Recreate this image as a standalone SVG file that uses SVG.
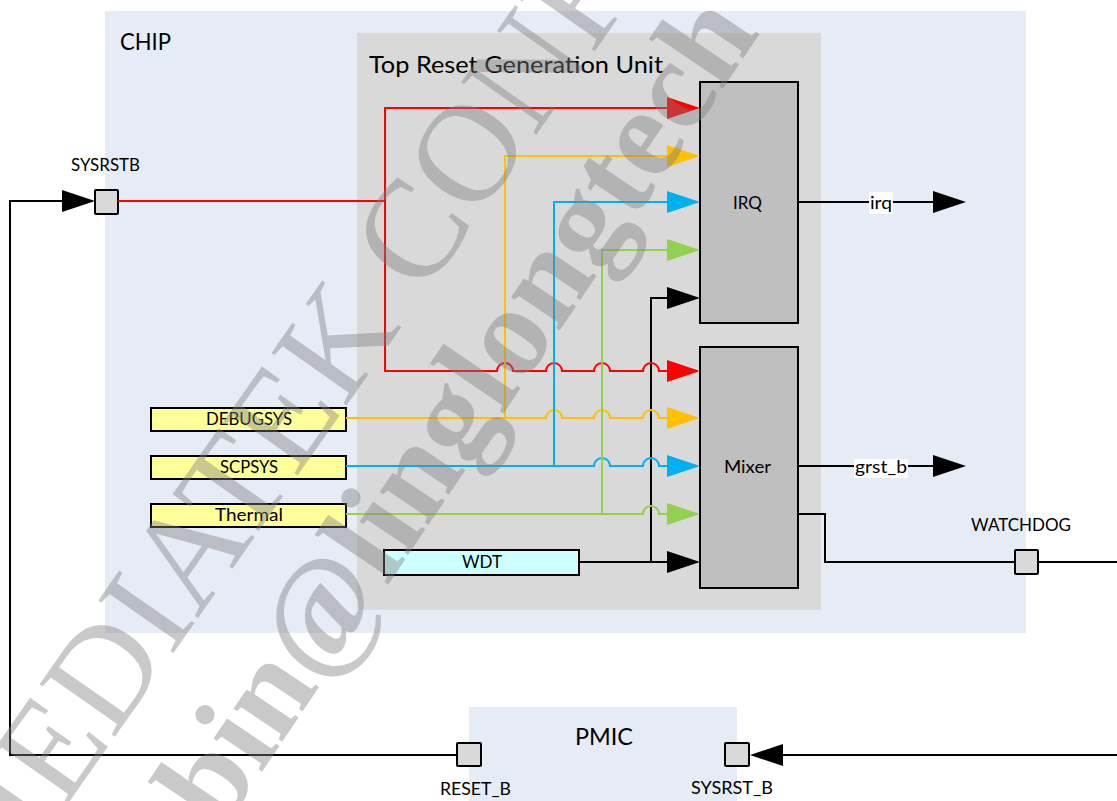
<svg xmlns="http://www.w3.org/2000/svg" width="1117" height="801" viewBox="0 0 1117 801">
<style>
text{font-family:Lato,"Open Sans","Liberation Sans",sans-serif;fill:#000}
.big{font-size:23px}
.lbl{font-size:17.5px}
.pad{fill:#D9D9D9;stroke:#000;stroke-width:2}
.blk{fill:#BFBFBF;stroke:#000;stroke-width:2}
.src{fill:#FFFF99;stroke:#000;stroke-width:2}
.wdt{fill:#CCFFFF;stroke:#000;stroke-width:2}
.w{fill:none;stroke-width:2;stroke-linejoin:miter}
.k{stroke:#000}.r{stroke:#FF0000}.y{stroke:#FFC000}.b{stroke:#00B0F0}.g{stroke:#92D050}
.wm{font-family:"Liberation Serif",serif;fill:#7F7F7F;fill-opacity:0.42}
</style>
<g id="chip"><rect x="105" y="11" width="921" height="622" fill="#E6ECF6"/><text class="big" x="120" y="50" textLength="51" lengthAdjust="spacingAndGlyphs">CHIP</text></g>
<g id="trgu"><rect x="357" y="33" width="464" height="577" fill="#D9D9D9"/><text class="big" x="369" y="73" textLength="294" lengthAdjust="spacingAndGlyphs">Top Reset Generation Unit</text></g>
<g id="pmic"><rect x="469" y="707" width="268" height="94" fill="#E6ECF6"/><text class="big" x="575" y="745" textLength="58" lengthAdjust="spacingAndGlyphs">PMIC</text></g>
<g id="irq"><rect class="blk" x="700" y="82" width="98" height="241"/><text class="lbl" x="733" y="209" textLength="29" lengthAdjust="spacingAndGlyphs">IRQ</text></g>
<g id="mixer"><rect class="blk" x="700" y="347" width="98" height="241"/><text class="lbl" x="724" y="473" textLength="47" lengthAdjust="spacingAndGlyphs">Mixer</text></g>
<g id="debugsys"><rect class="src" x="151" y="408" width="195" height="23"/><text class="lbl" x="206" y="425" textLength="86" lengthAdjust="spacingAndGlyphs">DEBUGSYS</text></g>
<g id="scpsys"><rect class="src" x="151" y="456" width="195" height="23"/><text class="lbl" x="220" y="473" textLength="58" lengthAdjust="spacingAndGlyphs">SCPSYS</text></g>
<g id="thermal"><rect class="src" x="151" y="504" width="195" height="23"/><text class="lbl" x="215" y="521" textLength="68" lengthAdjust="spacingAndGlyphs">Thermal</text></g>
<g id="wdt"><rect class="wdt" x="384" y="550" width="195" height="25"/><text class="lbl" x="462" y="568" textLength="40" lengthAdjust="spacingAndGlyphs">WDT</text></g>
<g id="sysrstb"><rect class="pad" x="95" y="190" width="23" height="24" rx="1"/><text class="lbl" x="71" y="171" textLength="69" lengthAdjust="spacingAndGlyphs">SYSRSTB</text></g>
<g id="watchdog"><rect class="pad" x="1015" y="550" width="23" height="24" rx="1"/><text class="lbl" x="971" y="531" textLength="100" lengthAdjust="spacingAndGlyphs">WATCHDOG</text></g>
<g id="reset_b"><rect class="pad" x="457" y="743" width="24" height="23" rx="1"/><text class="lbl" x="440" y="795" textLength="71" lengthAdjust="spacingAndGlyphs">RESET_B</text></g>
<g id="sysrst_b"><rect class="pad" x="725" y="743" width="24" height="23" rx="1"/><text class="lbl" x="691" y="794" textLength="82" lengthAdjust="spacingAndGlyphs">SYSRST_B</text></g>
<g id="connectors">
<path class="w k" d="M457 755H10V201H63"/>
<polygon points="62,190 95,201 62,212" fill="#000"/>
<path class="w k" d="M798 202H934"/>
<polygon points="933,191 966,202 933,213" fill="#000"/>
<path class="w k" d="M798 466H934"/>
<polygon points="933,455 966,466 933,477" fill="#000"/>
<path class="w k" d="M798 514H825V562H1015M1038 562H1117"/>
<path class="w k" d="M1117 755H782"/>
<polygon points="783,744 750,755 783,766" fill="#000"/>
<path class="w k" d="M580 562H668M651 562V298H668"/>
<polygon points="667,551 700,562 667,573" fill="#000"/>
<polygon points="667,287 700,298 667,309" fill="#000"/>
<path class="w r" d="M118 201H385M668 108H385V371H497A8 8 0 0 1 513 371H546A8 8 0 0 1 562 371H594A8 8 0 0 1 610 371H643A8 8 0 0 1 659 371H668"/>
<polygon points="667,97 700,108 667,119" fill="#FF0000"/>
<polygon points="667,360 700,371 667,382" fill="#FF0000"/>
<path class="w y" d="M346 418H546A8 8 0 0 1 562 418H594A8 8 0 0 1 610 418H643A8 8 0 0 1 659 418H668M505 418V156H668"/>
<polygon points="667,145 700,156 667,167" fill="#FFC000"/>
<polygon points="667,407 700,418 667,429" fill="#FFC000"/>
<path class="w b" d="M346 466H594A8 8 0 0 1 610 466H643A8 8 0 0 1 659 466H668M554 466V202H668"/>
<polygon points="667,191 700,202 667,213" fill="#00B0F0"/>
<polygon points="667,455 700,466 667,477" fill="#00B0F0"/>
<path class="w g" d="M346 514H643A8 8 0 0 1 659 514H668M602 514V250H668"/>
<polygon points="667,239 700,250 667,261" fill="#92D050"/>
<polygon points="667,503 700,514 667,525" fill="#92D050"/>
<rect x="869" y="192" width="24" height="22" fill="#fff"/>
<text class="lbl" x="870" y="209" textLength="22" lengthAdjust="spacingAndGlyphs">irq</text>
<rect x="854" y="459" width="54" height="19" fill="#fff"/>
<text class="lbl" x="855" y="473" textLength="52" lengthAdjust="spacingAndGlyphs">grst_b</text>
</g>
<g id="watermark">
<text class="wm" font-size="140" transform="translate(-8,912) rotate(-55)">MEDIATEK CONFIDENTIAL</text>
<text class="wm" font-size="128" font-weight="bold" transform="translate(141,951) rotate(-56)">linbin@linglongtech</text>
</g>
</svg>
